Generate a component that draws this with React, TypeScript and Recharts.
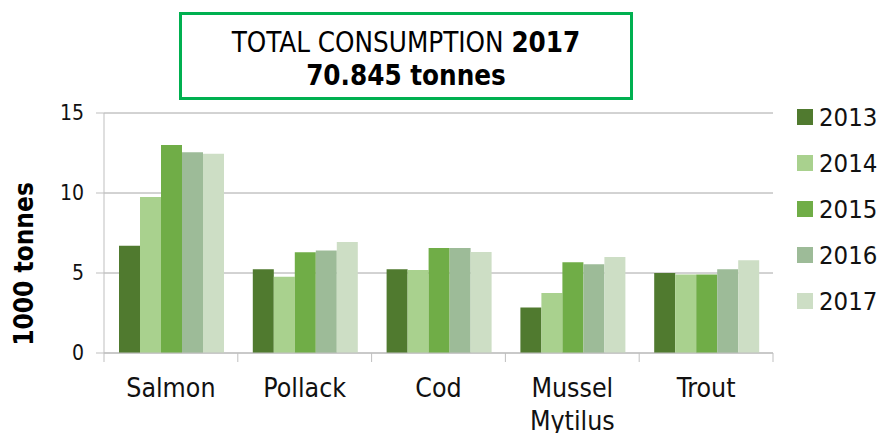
import { BarChart, Bar, XAxis, YAxis, CartesianGrid } from "recharts";

const categories = ["Salmon", "Pollack", "Cod", "Mussel Mytilus", "Trout"];
const years = ["2013", "2014", "2015", "2016", "2017"];
const v2013 = [6.7, 5.23, 5.23, 2.85, 5.0];
const v2014 = [9.75, 4.77, 5.19, 3.75, 4.9];
const v2015 = [13.0, 6.3, 6.56, 5.67, 4.9];
const v2016 = [12.55, 6.4, 6.56, 5.54, 5.23];
const v2017 = [12.45, 6.94, 6.31, 6.0, 5.79];
const yTicks = [0, 5, 10, 15];

const colors = ["#507A2F", "#A9D18E", "#70AD47", "#9DBB98", "#CDDEC5"];
const seriesValues = [v2013, v2014, v2015, v2016, v2017];

const data = categories.map((name, i) => {
  const row: Record<string, string | number> = { name };
  years.forEach((y, k) => {
    row[y] = seriesValues[k][i];
  });
  return row;
});

const FONT = "'DejaVu Sans Condensed', 'DejaVu Sans', sans-serif";
const W = 880;
const H = 433;
const PLOT_LEFT = 104;
const PLOT_RIGHT = 773;
const BAND = (PLOT_RIGHT - PLOT_LEFT) / categories.length;

function CategoryTick(props: any) {
  const { x, y, payload, index } = props;
  const lines = String(payload.value).split(" ");
  return (
    <g>
      <line x1={x - BAND / 2} x2={x - BAND / 2} y1={y - 9} y2={y} stroke="#BFBFBF" />
      {index === categories.length - 1 && (
        <line x1={x + BAND / 2} x2={x + BAND / 2} y1={y - 9} y2={y} stroke="#BFBFBF" />
      )}
      <text x={x} y={y + 35} textAnchor="middle" fontSize={26.5} fontFamily={FONT} fill="#111">
        {lines.map((l, i) => (
          <tspan key={l} x={x} dy={i === 0 ? 0 : 33}>
            {l}
          </tspan>
        ))}
      </text>
    </g>
  );
}

export default function App() {
  return (
    <div style={{ position: "absolute", left: 0, top: 0, width: W, height: H, background: "#fff", fontFamily: FONT }}>
      <div
        style={{
          position: "absolute",
          left: 179,
          top: 12,
          width: 454,
          height: 88,
          boxSizing: "border-box",
          border: "3px solid #00B050",
          textAlign: "center",
          color: "#000",
          fontSize: 27.5,
          lineHeight: "33px",
          paddingTop: 11,
        }}
      >
        <div>
          TOTAL CONSUMPTION <b>2017</b>
        </div>
        <div style={{ fontWeight: "bold" }}>70.845 tonnes</div>
      </div>

      <BarChart
        width={W}
        height={H}
        data={data}
        margin={{ top: 113, right: W - PLOT_RIGHT, bottom: 0, left: PLOT_LEFT - 60 }}
        barGap={0}
        barCategoryGap={15}
      >
        <CartesianGrid horizontal vertical={false} stroke="#A6A6A6" />
        <XAxis
          dataKey="name"
          interval={0}
          axisLine={{ stroke: "#BFBFBF" }}
          tickLine={false}
          tickSize={9}
          tickMargin={0}
          tick={<CategoryTick />}
          height={80}
        />
        <YAxis
          width={60}
          domain={[0, 15]}
          ticks={yTicks}
          interval={0}
          axisLine={{ stroke: "#BFBFBF" }}
          tickLine={{ stroke: "#BFBFBF" }}
          tickSize={8}
          tickMargin={12}
          tick={{ fontSize: 21, fontFamily: FONT, fill: "#111" }}
          label={{
            content: () => (
              <text
                transform="translate(33, 264) rotate(-90)"
                textAnchor="middle"
                fontSize={26}
                fontWeight="bold"
                fontFamily={FONT}
                fill="#000"
              >
                1000 tonnes
              </text>
            ),
          }}
        />
        {years.map((y, k) => (
          <Bar key={y} dataKey={y} fill={colors[k]} isAnimationActive={false} />
        ))}
      </BarChart>

      <div style={{ position: "absolute", left: 797, top: 94 }}>
        {years.map((y, k) => (
          <div key={y} style={{ display: "flex", alignItems: "center", height: 45.9, fontSize: 25.5, color: "#111" }}>
            <span style={{ width: 16, height: 16, background: colors[k], marginRight: 6, display: "inline-block" }} />
            {y}
          </div>
        ))}
      </div>
    </div>
  );
}
